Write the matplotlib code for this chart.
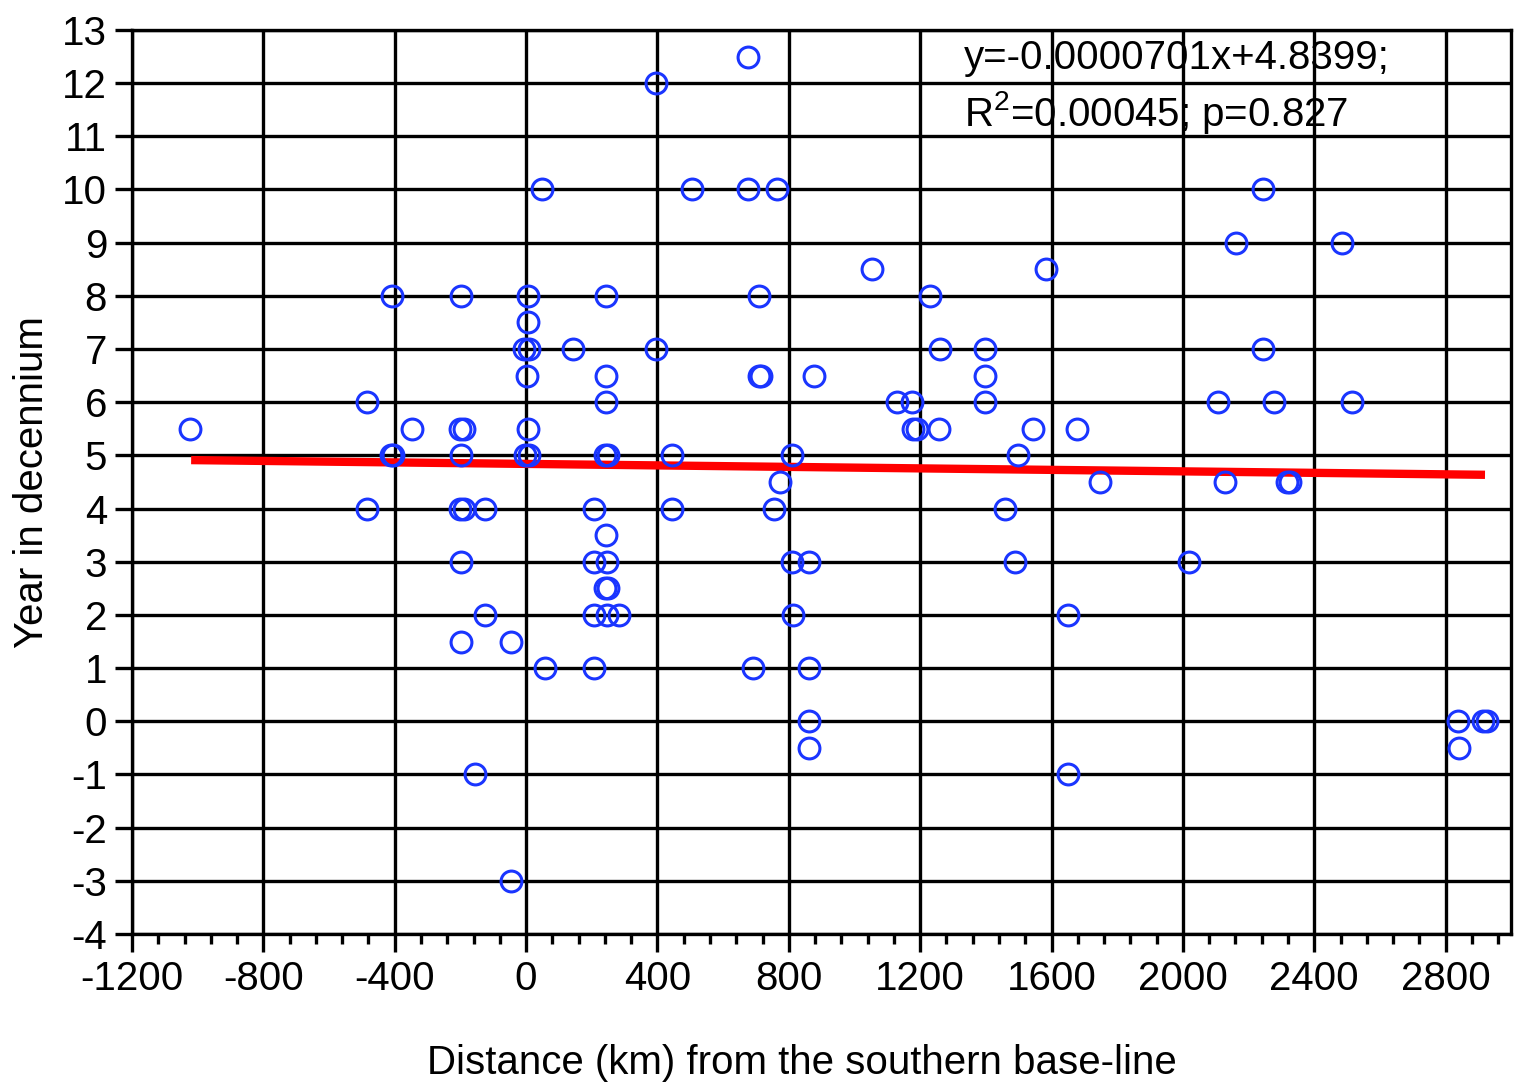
import numpy as np
import matplotlib
matplotlib.use("Agg")
import matplotlib.pyplot as plt
from matplotlib.ticker import MultipleLocator

plt.rcParams['font.family'] = ['Liberation Sans', 'DejaVu Sans']
plt.rcParams['mathtext.fontset'] = 'custom'
plt.rcParams['mathtext.rm'] = 'Liberation Sans'
plt.rcParams['mathtext.it'] = 'Liberation Sans:italic'
plt.rcParams['axes.unicode_minus'] = False

# distance (km) from the southern base-line
distance = [
    676,
    396,
    49, 505, 676, 764, 2243,
    2161, 2484,
    1053, 1583,
    -408, -198, 6, 244, 709, 1230,
    6,
    -5, 10, 143, 396, 1260, 1397, 2243,
    3, 244, 708, 716, 876, 1397,
    -484, 244, 1129, 1175, 1397, 2107, 2277, 2514,
    -1023, -347, -200, -188, 6, 1178, 1190, 1257, 1543, 1677,
    -412, -404, -198, -3, 8, 240, 248, 444, 810, 1498,
    773, 1747, 2128, 2316, 2326,
    -484, -200, -188, -125, 207, 444, 755, 1458,
    244,
    -198, 207, 247, 810, 862, 1489, 2018,
    240, 248,
    -125, 207, 247, 283, 812, 1650,
    -198, -46,
    58, 207, 691, 861,
    861, 2837, 2913, 2925,
    861, 2840,
    -155, 1650,
    -46,
]
# year in decennium
year = (
    [12.5]
    + [12]
    + [10] * 5
    + [9] * 2
    + [8.5] * 2
    + [8] * 6
    + [7.5]
    + [7] * 7
    + [6.5] * 6
    + [6] * 8
    + [5.5] * 10
    + [5] * 10
    + [4.5] * 5
    + [4] * 8
    + [3.5]
    + [3] * 7
    + [2.5] * 2
    + [2] * 6
    + [1.5] * 2
    + [1] * 4
    + [0] * 4
    + [-0.5] * 2
    + [-1] * 2
    + [-3]
)

slope = -0.0000701
intercept = 4.8399
fit_x = [-1020, 2920]

fig = plt.figure(figsize=(15.14, 10.88), dpi=100)
ax = fig.add_axes([0.0872, 0.1415, 0.911, 0.831])

ax.set_xlim(-1200, 3000)
ax.set_ylim(-4, 13)
ax.xaxis.set_major_locator(MultipleLocator(400))
ax.xaxis.set_minor_locator(MultipleLocator(80))
ax.yaxis.set_major_locator(MultipleLocator(1))

ax.grid(True, which='major', color='black', linewidth=2.4, zorder=0)
ax.set_axisbelow(True)
for sp in ax.spines.values():
    sp.set_linewidth(2.4)

fx = np.array(fit_x)
ax.plot(fx, slope * fx + intercept, color='#ff0000', linewidth=6, zorder=2,
        solid_capstyle='butt')
ax.plot(distance, year, linestyle='none', marker='o', markersize=15,
        markerfacecolor='none', markeredgecolor='#1a35ff', markeredgewidth=2.2,
        zorder=3)

ax.tick_params(axis='x', which='major', direction='out', length=13, width=2.4,
               pad=6, labelsize=29)
ax.tick_params(axis='x', which='minor', direction='out', length=7, width=2.4)
ax.tick_params(axis='y', which='major', direction='out', length=12, width=2.4,
               pad=6, labelsize=29)

ax.set_xlabel('Distance (km) from the southern base-line', fontsize=29)
ax.xaxis.set_label_coords(0.4855, -0.122)
ax.set_ylabel('Year in decennium', fontsize=29, labelpad=8)

ax.text(1333, 12.47, 'y=-0.0000701x+4.8399;', fontsize=29, va='center', ha='left')
ax.text(1333, 11.44, r'R$^{2}$=0.00045; p=0.827', fontsize=29, va='center', ha='left')

fig.savefig('out.png', dpi=100)
